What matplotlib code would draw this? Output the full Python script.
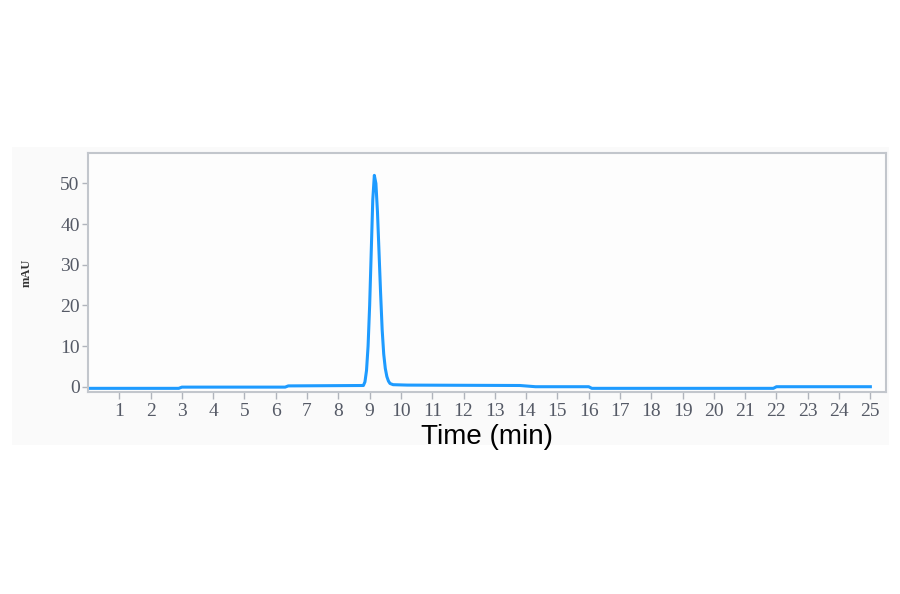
import matplotlib
matplotlib.use("Agg")
import matplotlib.pyplot as plt
from matplotlib.patches import Rectangle
import numpy as np

# chromatogram trace (time in min, signal in mAU)
time_min = [0.0, 2.9, 3.0, 6.3, 6.4, 8.80, 8.85, 8.90, 8.95, 9.00, 9.05, 9.10,
            9.15, 9.20, 9.25, 9.30, 9.35, 9.40, 9.45, 9.50, 9.55, 9.60, 9.65,
            9.75, 10.2, 13.8, 14.3, 16.0, 16.1, 21.9, 22.0, 25.0]
signal_mau = [-0.4, -0.4, -0.1, -0.1, 0.2, 0.3, 1.2, 4.0, 10.0, 20.0, 33.0, 46.0,
              52.0, 50.0, 43.0, 33.0, 23.0, 14.0, 8.0, 4.5, 2.5, 1.4, 0.8,
              0.5, 0.4, 0.3, 0.0, 0.0, -0.4, -0.4, 0.0, 0.0]

x_ticks = list(range(1, 26))
y_ticks = [0, 10, 20, 30, 40, 50]

fig = plt.figure(figsize=(9, 5.94), dpi=100)
fig.patch.set_facecolor("white")
# faint grey panel behind the plot
fig.add_artist(Rectangle((12 / 900, 1 - 445 / 594), 877 / 900, 298 / 594,
                         transform=fig.transFigure, facecolor="#fafafa",
                         edgecolor="none", zorder=-10))

ax = fig.add_axes([88 / 900, 1 - 392 / 594, 798 / 900, 239 / 594])
ax.set_facecolor("#fdfdfd")
ax.plot(time_min, signal_mau, color="#1e9bff", lw=2.2, solid_joinstyle="round")

ax.set_xlim(0, 25.5)
ax.set_ylim(-1.3, 57.5)
ax.set_xticks(x_ticks)
ax.set_yticks(y_ticks)

tick_font = dict(family="Liberation Serif", size=14, color="#555a66")
ax.set_xticklabels([str(t) for t in x_ticks], **tick_font)
ax.set_yticklabels([str(t) for t in y_ticks], **tick_font)
ax.tick_params(axis="x", length=5, width=1, color="#b0b4bc", pad=3)
ax.tick_params(axis="y", length=4, width=1, color="#b0b4bc", pad=2)

for s in ax.spines.values():
    s.set_color("#c2c6cc")
    s.set_linewidth(1.5)

ax.set_ylabel("mAU", family="Liberation Serif", fontsize=9, fontweight="bold",
              color="#333333", labelpad=20)
ax.set_xlabel("Time (min)", family="Liberation Sans", fontsize=20,
              color="black", labelpad=3)

fig.savefig("out.png", dpi=100)
